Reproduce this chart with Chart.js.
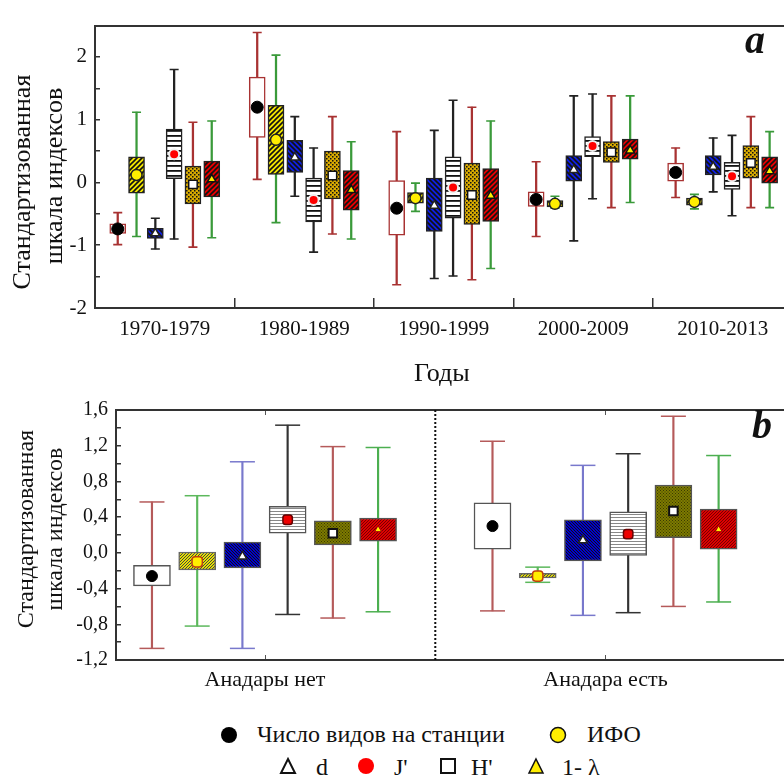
<!DOCTYPE html>
<html>
<head>
<meta charset="utf-8">
<script src="https://cdn.jsdelivr.net/npm/chart.js@4.4.1/dist/chart.umd.min.js"></script>
<style>
  body { margin: 0; background: #fff; width: 784px; height: 776px; overflow: hidden; position: relative;
         font-family: "Liberation Serif", "Times New Roman", serif; color: #111; }
  canvas { position: absolute; left: 0; display: block; }
  .t { position: absolute; white-space: nowrap; line-height: 1; }
  .rot { position: absolute; white-space: nowrap; text-align: center; line-height: 1; transform: rotate(-90deg); }
  .sym { position: absolute; }
</style>
</head>
<body>
<canvas id="chartA" width="784" height="390" style="top:0"></canvas>
<canvas id="chartB" width="784" height="315" style="top:385px"></canvas>

<div class="rot" style="font-size:26px;width:260px;left:-108px;top:169px">Стандартизованная</div>
<div class="rot" style="font-size:26px;width:260px;left:-76px;top:163px">шкала индексов</div>
<div class="t" style="font-size:26px;left:414px;top:360px">Годы</div>
<div class="t" style="font-size:40px;font-weight:bold;font-style:italic;left:745px;top:20px">a</div>

<div class="rot" style="font-size:24px;width:260px;left:-105px;top:517px">Стандартизованная</div>
<div class="rot" style="font-size:24px;width:260px;left:-76px;top:517px">шкала индексов</div>
<div class="t" style="font-size:40px;font-weight:bold;font-style:italic;left:752px;top:405px">b</div>

<!-- legend -->
<svg class="sym" style="left:220px;top:726px" width="18" height="18"><circle cx="9" cy="9" r="8" fill="#000"/></svg>
<div class="t" style="font-size:24px;left:257px;top:722px">Число видов на станции</div>
<svg class="sym" style="left:549px;top:726px" width="18" height="18"><circle cx="9" cy="9" r="7.5" fill="#ffee00" stroke="#111" stroke-width="1.5"/></svg>
<div class="t" style="font-size:24px;left:587px;top:722px">ИФО</div>

<svg class="sym" style="left:279px;top:757px" width="18" height="18"><polygon points="9,2 16,16 2,16" fill="#fff" stroke="#111" stroke-width="2"/></svg>
<div class="t" style="font-size:24px;left:316px;top:755px">d</div>
<svg class="sym" style="left:357px;top:757px" width="18" height="18"><circle cx="9" cy="9" r="8" fill="#ff0000"/></svg>
<div class="t" style="font-size:24px;left:394px;top:755px">J'</div>
<svg class="sym" style="left:439px;top:757px" width="18" height="18"><rect x="2" y="2" width="14" height="14" fill="#fff" stroke="#111" stroke-width="2"/></svg>
<div class="t" style="font-size:24px;left:471px;top:755px">H'</div>
<svg class="sym" style="left:527px;top:757px" width="18" height="18"><polygon points="9,2 16,16 2,16" fill="#ffee00" stroke="#111" stroke-width="1.5"/></svg>
<div class="t" style="font-size:24px;left:562px;top:755px">1- λ</div>

<script>
// ---- data, panel a (rows: species, IFO, d, J', H', 1-λ; columns: periods) ----
const periods = ['1970-1979', '1980-1989', '1990-1999', '2000-2009', '2010-2013'];

const aHigh = [
  [-0.48, 2.39, 0.81, 0.33, 0.55],
  [1.12, 2.03, -0.01, -0.22, -0.19],
  [-0.57, 1.05, 0.83, 1.38, 0.71],
  [1.80, 0.55, 1.31, 1.41, 0.75],
  [0.96, 1.05, 1.20, 1.38, 1.05],
  [0.98, 0.65, 0.98, 1.38, 0.81]
];
const aQ3 = [
  [-0.66, 1.68, 0.03, -0.15, 0.31],
  [0.41, 1.23, -0.16, -0.29, -0.25],
  [-0.73, 0.67, 0.07, 0.43, 0.43],
  [0.85, 0.07, 0.41, 0.73, 0.32],
  [0.26, 0.50, 0.31, 0.65, 0.59],
  [0.34, 0.19, 0.22, 0.69, 0.41]
];
const aMark = [
  [-0.74, 1.20, -0.41, -0.27, 0.16],
  [0.12, 0.68, -0.25, -0.34, -0.31],
  [-0.81, 0.40, -0.37, 0.20, 0.25],
  [0.45, -0.28, -0.08, 0.58, 0.10],
  [-0.03, 0.11, -0.20, 0.48, 0.31],
  [0.05, -0.12, -0.21, 0.51, 0.18]
];
const aQ1 = [
  [-0.81, 0.72, -0.84, -0.38, 0.02],
  [-0.17, 0.13, -0.33, -0.39, -0.36],
  [-0.89, 0.16, -0.78, 0.02, 0.12],
  [0.06, -0.63, -0.57, 0.41, -0.11],
  [-0.34, -0.26, -0.67, 0.32, 0.07],
  [-0.23, -0.44, -0.62, 0.37, -0.01]
];
const aLow = [
  [-0.99, 0.05, -1.63, -0.86, -0.24],
  [-0.86, -0.64, -0.46, -0.41, -0.42],
  [-1.06, -0.22, -1.53, -0.93, -0.15],
  [-0.90, -1.11, -1.49, -0.26, -0.53],
  [-1.03, -0.82, -1.55, -0.40, -0.40],
  [-0.88, -0.90, -1.37, -0.32, -0.40]
];

// ---- data, panel b ----
const anadara = ['Анадары нет', 'Анадара есть'];

const bHigh = [[0.57, 1.25], [0.64, -0.16], [1.02, 0.98], [1.43, 1.11], [1.19, 1.53], [1.18, 1.09]];
const bQ3   = [[-0.14, 0.56], [0.01, -0.23], [0.12, 0.37], [0.52, 0.46], [0.36, 0.76], [0.39, 0.49]];
const bMark = [[-0.26, 0.30], [-0.10, -0.26], [-0.04, 0.14], [0.37, 0.21], [0.22, 0.47], [0.26, 0.26]];
const bQ1   = [[-0.37, 0.04], [-0.19, -0.28], [-0.17, -0.09], [0.22, -0.03], [0.09, 0.17], [0.13, 0.04]];
const bLow  = [[-1.07, -0.65], [-0.82, -0.33], [-1.07, -0.70], [-0.69, -0.67], [-0.73, -0.60], [-0.66, -0.55]];

Chart.defaults.font.family = '"Liberation Serif", "Times New Roman", serif';
Chart.defaults.color = '#111';

// hatch / stripe / dot fills
function pattern(bg, fg, kind, s, lw) {
  const c = document.createElement('canvas');
  c.width = s; c.height = s;
  const g = c.getContext('2d');
  g.fillStyle = bg;
  g.fillRect(0, 0, s, s);
  g.strokeStyle = fg;
  g.fillStyle = fg;
  g.lineWidth = lw;
  g.beginPath();
  if (kind === 'fwd') {
    g.moveTo(0, s); g.lineTo(s, 0);
    g.moveTo(-1, 1); g.lineTo(1, -1);
    g.moveTo(s - 1, s + 1); g.lineTo(s + 1, s - 1);
    g.stroke();
  } else if (kind === 'back') {
    g.moveTo(0, 0); g.lineTo(s, s);
    g.moveTo(-1, s - 1); g.lineTo(1, s + 1);
    g.moveTo(s - 1, -1); g.lineTo(s + 1, 1);
    g.stroke();
  } else if (kind === 'h') {
    g.fillRect(0, 0, s, lw);
  } else if (kind === 'dots') {
    g.fillRect(0, 0, lw, lw);
    g.fillRect(s / 2, s / 2, lw, lw);
  }
  return g.createPattern(c, 'repeat');
}

const looksA = [
  { fill: '#ffffff', edge: '#a83232', whisker: '#a83232', shape: 'circle', r: 6, mfill: '#000', mline: '#000', mw: 1 },
  { fill: pattern('#f2e600', '#111', 'fwd', 5, 1.6), edge: '#222', whisker: '#3a9a3a', shape: 'circle', r: 5.5, mfill: '#ffee00', mline: '#222', mw: 1.5 },
  { fill: pattern('#1020e0', '#111', 'back', 5, 1.6), edge: '#222', whisker: '#222', shape: 'triangle', r: 5, mfill: '#fff', mline: '#222', mw: 1.5 },
  { fill: pattern('#ffffff', '#111', 'h', 5, 1.8), edge: '#222', whisker: '#222', shape: 'circle', r: 5, mfill: '#ff0000', mline: '#eee', mw: 2 },
  { fill: pattern('#d8aa00', '#111', 'dots', 4, 1.5), edge: '#222', whisker: '#a83232', shape: 'rect', r: 6, mfill: '#fff', mline: '#111', mw: 1.5 },
  { fill: pattern('#e80000', '#111', 'fwd', 5, 1.6), edge: '#222', whisker: '#3a9a3a', shape: 'triangle', r: 5, mfill: '#ffee00', mline: '#111', mw: 1.5 }
];

const looksB = [
  { fill: '#ffffff', edge: '#555', whisker: '#b55a5a', shape: 'circle', r: 5.5, mfill: '#000', mline: '#000', mw: 1 },
  { fill: pattern('#e6e000', '#444', 'fwd', 3, 1), edge: '#666', whisker: '#5cb85c', shape: 'rectRounded', r: 6, mfill: '#ffee00', mline: '#c04010', mw: 1.5 },
  { fill: pattern('#0000cc', '#111', 'back', 3, 1), edge: '#555', whisker: '#7878cc', shape: 'triangle', r: 5, mfill: '#fff', mline: '#222', mw: 1.5 },
  { fill: pattern('#ffffff', '#888', 'h', 3, 1), edge: '#555', whisker: '#333', shape: 'rectRounded', r: 5.5, mfill: '#ee0000', mline: '#600', mw: 1.5 },
  { fill: pattern('#7d7a00', '#3a3a00', 'dots', 3, 1), edge: '#555', whisker: '#b55a5a', shape: 'rect', r: 6, mfill: '#fff', mline: '#111', mw: 2 },
  { fill: pattern('#dd0000', '#700', 'fwd', 3, 1), edge: '#555', whisker: '#4caf50', shape: 'triangle', r: 4, mfill: '#ffee00', mline: '#a00', mw: 1 }
];

// one whisker bar, caps, box and marker dataset per index
function boxDatasets(nGroups, low, q1, mark, q3, high, looks, step, boxW, capR, lineW) {
  const out = [];
  looks.forEach((L, s) => {
    const xs = [];
    for (let g = 0; g < nGroups; g++) xs.push(g + (s - 2.5) * step);
    out.push({
      type: 'bar', order: 4, grouped: false, barThickness: lineW, borderWidth: 0,
      backgroundColor: L.whisker,
      data: xs.map((x, g) => ({ x: x, y: [low[s][g], high[s][g]] }))
    });
    out.push({
      type: 'scatter', order: 3, pointStyle: 'line', pointRadius: capR,
      pointBorderColor: L.whisker, pointBorderWidth: lineW,
      data: xs.flatMap((x, g) => [{ x: x, y: low[s][g] }, { x: x, y: high[s][g] }])
    });
    out.push({
      type: 'bar', order: 2, grouped: false, barThickness: boxW, borderSkipped: false,
      backgroundColor: L.fill, borderColor: L.edge, borderWidth: 1.5,
      data: xs.map((x, g) => ({ x: x, y: [q1[s][g], q3[s][g]] }))
    });
    out.push({
      type: 'scatter', order: 1, pointStyle: L.shape, pointRadius: L.r,
      pointBackgroundColor: L.mfill, pointBorderColor: L.mline, pointBorderWidth: L.mw,
      data: xs.map((x, g) => ({ x: x, y: mark[s][g] }))
    });
  });
  return out;
}

const frame = { color: '#333', width: 2 };

// ---- panel a ----
new Chart(document.getElementById('chartA'), {
  type: 'bar',
  data: { datasets: boxDatasets(periods.length, aLow, aQ1, aMark, aQ3, aHigh, looksA, 0.1348, 16, 4.5, 1.6) },
  options: {
    responsive: false,
    animation: false,
    events: [],
    layout: { autoPadding: false, padding: { top: 14, left: 0, right: 0, bottom: 0 } },
    plugins: { legend: { display: false }, tooltip: { enabled: false } },
    scales: {
      x: {
        type: 'linear', position: 'bottom', min: -0.5, max: 4.44, offset: false,
        afterBuildTicks: sc => { sc.ticks = periods.map((p, i) => ({ value: i - 0.5 })); },
        afterFit: sc => { sc.height = 82; },
        ticks: { autoSkip: false, maxRotation: 0, labelOffset: 69.75, padding: 19, font: { size: 21 },
                 callback: (v, i) => periods[i] },
        grid: { offset: false, drawOnChartArea: false, tickLength: -10, color: '#333', lineWidth: 1.5 },
        border: frame
      },
      x2: {
        type: 'linear', position: 'top', min: -0.5, max: 4.44, offset: false,
        afterFit: sc => { sc.height = 0; },
        ticks: { display: false },
        grid: { offset: false, drawOnChartArea: false, drawTicks: false },
        border: frame
      },
      y: {
        min: -2, max: 2.5,
        afterFit: sc => { sc.width = 95; },
        ticks: { stepSize: 0.5, autoSkip: false, padding: 13, font: { size: 21 },
                 callback: v => Number.isInteger(v) ? String(v) : '' },
        grid: { drawOnChartArea: false, tickLength: -5, color: '#333', lineWidth: 1.5 },
        border: frame
      }
    }
  }
});

// ---- panel b ----
const dsB = boxDatasets(anadara.length, bLow, bQ1, bMark, bQ3, bHigh, looksB, 0.1328, 37, 12.5, 1.5);
// dotted divider between the two groups
dsB.push({
  type: 'line', order: 5, borderColor: '#111', borderWidth: 2, borderDash: [2, 2], pointRadius: 0,
  data: [{ x: 0.5, y: -1.2 }, { x: 0.5, y: 1.6 }]
});

const fmtB = v => {
  const k = v / 0.4;
  if (Math.abs(k - Math.round(k)) > 1e-6) return '';
  const r = Math.round(k) * 0.4;
  return (Math.abs(r) < 1e-9 ? 0 : r).toFixed(1).replace('.', ',');
};

new Chart(document.getElementById('chartB'), {
  type: 'bar',
  data: { datasets: dsB },
  options: {
    responsive: false,
    animation: false,
    events: [],
    layout: { autoPadding: false, padding: { top: 15, left: 0, right: 0, bottom: 0 } },
    plugins: { legend: { display: false }, tooltip: { enabled: false } },
    scales: {
      x: {
        type: 'linear', position: 'bottom', min: -0.4376, max: 1.524, offset: false,
        afterBuildTicks: sc => { sc.ticks = anadara.map((a, i) => ({ value: i })); },
        afterFit: sc => { sc.height = 40; },
        ticks: { autoSkip: false, maxRotation: 0, padding: 12, font: { size: 22 },
                 callback: (v, i) => anadara[i] },
        grid: { offset: false, drawOnChartArea: false, tickLength: -5, color: '#555', lineWidth: 1 },
        border: frame
      },
      x2: {
        type: 'linear', position: 'top', min: -0.4376, max: 1.524, offset: false,
        afterBuildTicks: sc => { sc.ticks = anadara.map((a, i) => ({ value: i })); },
        afterFit: sc => { sc.height = 0; },
        ticks: { display: false },
        grid: { offset: false, drawOnChartArea: false, tickLength: -5, color: '#555', lineWidth: 1 },
        border: frame
      },
      y: {
        min: -1.2, max: 1.6,
        afterFit: sc => { sc.width = 116; },
        ticks: { stepSize: 0.2, autoSkip: false, padding: 13, font: { size: 20 }, callback: fmtB },
        grid: { drawOnChartArea: false, tickLength: -5, color: '#333', lineWidth: 1.5 },
        border: frame
      }
    }
  }
});
</script>
</body>
</html>
